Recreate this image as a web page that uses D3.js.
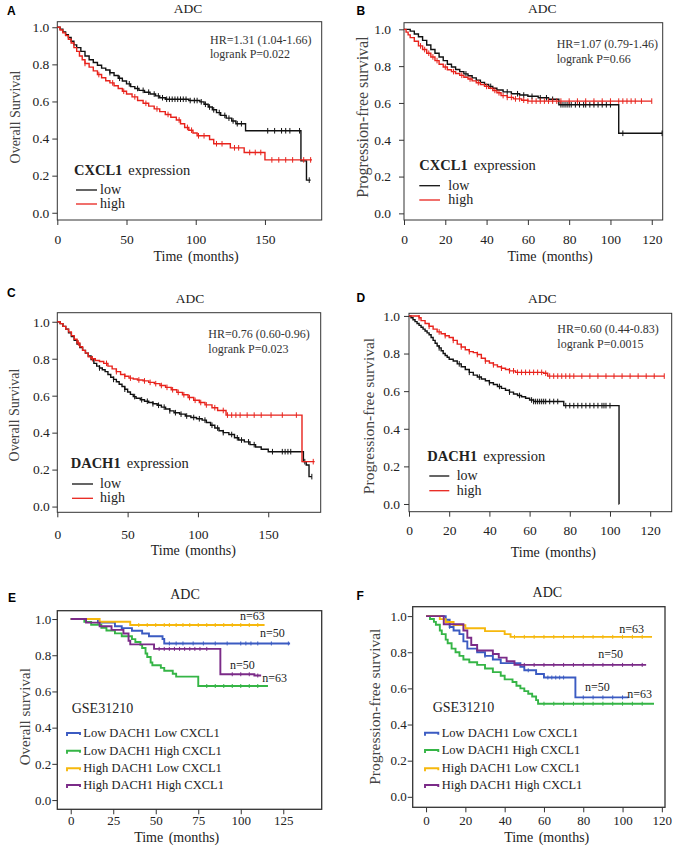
<!DOCTYPE html>
<html>
<head>
<meta charset="utf-8">
<style>
  body { margin: 0; background: #fff; }
  svg text { font-family: "Liberation Serif", "Times New Roman", serif; }
</style>
</head>
<body>
<div id="fig"></div>
<script src="https://cdn.jsdelivr.net/npm/d3@7"></script>
<script>
// ---------- data ----------
var yTicks = [0, 0.2, 0.4, 0.6, 0.8, 1.0];
var xTicksOS = [0, 50, 100, 150];
var xTicksPFS = [0, 20, 40, 60, 80, 100, 120];
var xTicksE = [0, 25, 50, 75, 100, 125];

// A: CXCL1, overall survival  [months, survival]
var A_low = [[0,1],[2,0.99],[4,0.975],[6,0.96],[8,0.945],[10,0.925],[12,0.905],[14,0.89],[17,0.87],[20,0.845],[23,0.825],[26,0.81],[29,0.795],[32,0.78],[35,0.77],[38,0.755],[41,0.74],[44,0.725],[47,0.71],[50,0.695],[53,0.68],[56,0.67],[59,0.66],[63,0.65],[67,0.64],[71,0.63],[74,0.62],[78,0.612],[95,0.605],[103,0.598],[106,0.585],[109,0.57],[112,0.555],[115,0.54],[118,0.525],[122,0.51],[126,0.495],[129,0.48],[136,0.442],[176,0.28],[180,0.176],[183,0.176]];
var A_high = [[0,1],[2,0.985],[4,0.97],[6,0.955],[8,0.935],[10,0.915],[12,0.89],[14,0.87],[16,0.845],[18,0.825],[20,0.805],[23,0.785],[26,0.765],[29,0.745],[32,0.728],[35,0.712],[38,0.7],[41,0.685],[44,0.67],[47,0.655],[50,0.64],[54,0.625],[58,0.605],[62,0.59],[66,0.575],[70,0.56],[74,0.545],[78,0.53],[82,0.515],[86,0.5],[89,0.48],[92,0.46],[95,0.445],[98,0.43],[101,0.415],[110,0.395],[113,0.372],[125,0.35],[135,0.325],[150,0.285],[184,0.285]];
var A_low_cens = [38,45,52,58,62,66,70,73,76,79,81,83,85,87,89,91,93,96,99,101,104,107,110,113,117,121,124,127,130,133,152,157,162,165,168,175,182];
var A_high_cens = [20,30,40,48,56,64,72,80,88,94,97,102,106,115,119,128,131,139,143,147,155,160,165,170,178,183];

// B: CXCL1, progression-free survival
var B_low = [[0,1],[3,0.99],[5,0.975],[7,0.96],[9,0.94],[11,0.915],[13,0.89],[15,0.87],[17,0.85],[19,0.83],[21,0.81],[23,0.795],[25,0.782],[27,0.77],[29,0.758],[31,0.748],[33,0.736],[35,0.724],[37,0.712],[39,0.7],[41,0.69],[43,0.68],[45,0.67],[48,0.66],[52,0.65],[56,0.643],[60,0.636],[65,0.628],[70,0.62],[75,0.59],[104,0.435],[125,0.435]];
var B_high = [[0,1],[1,0.985],[2,0.97],[3,0.955],[5,0.935],[7,0.91],[9,0.89],[11,0.87],[13,0.85],[15,0.83],[17,0.81],[19,0.795],[21,0.78],[23,0.77],[25,0.76],[27,0.75],[29,0.74],[31,0.73],[33,0.72],[35,0.71],[37,0.7],[39,0.69],[41,0.68],[43,0.668],[45,0.655],[47,0.64],[50,0.63],[53,0.622],[57,0.615],[60,0.61],[120,0.61]];
var B_low_cens = [30,42,50,55,58,62,66,69,72,76,77,78,79,80,81,83,85,87,88,90,92,94,96,98,100,106,125];
var B_high_cens = [8,10,12,14,16,20,24,28,32,36,40,44,46,48,50,52,54,56,58,60,62,64,66,68,70,72,74,76,80,84,88,92,96,100,104,106,108,110,112,115,120];

// C: DACH1, overall survival
var C_low = [[0,1],[2,0.99],[4,0.975],[6,0.96],[8,0.94],[10,0.92],[12,0.9],[14,0.88],[16,0.86],[18,0.845],[20,0.83],[22,0.815],[24,0.795],[26,0.775],[28,0.76],[30,0.75],[32,0.74],[34,0.73],[36,0.715],[38,0.7],[40,0.688],[42,0.675],[44,0.662],[46,0.65],[48,0.635],[50,0.62],[52,0.607],[54,0.595],[56,0.586],[59,0.578],[62,0.57],[65,0.563],[68,0.556],[71,0.548],[74,0.538],[77,0.528],[80,0.518],[83,0.508],[87,0.5],[91,0.49],[95,0.482],[99,0.475],[103,0.468],[106,0.455],[109,0.44],[112,0.425],[115,0.41],[118,0.4],[122,0.39],[126,0.372],[129,0.36],[133,0.35],[137,0.335],[141,0.322],[145,0.31],[150,0.297],[175,0.243],[177,0.225],[179,0.162],[181,0.162]];
var C_high = [[0,1],[2,0.99],[4,0.975],[6,0.96],[8,0.945],[10,0.925],[12,0.905],[14,0.885],[16,0.865],[18,0.845],[20,0.83],[22,0.81],[24,0.8],[27,0.79],[30,0.785],[33,0.775],[36,0.76],[39,0.745],[42,0.73],[45,0.715],[48,0.705],[51,0.695],[54,0.69],[57,0.685],[61,0.68],[65,0.672],[69,0.665],[73,0.655],[77,0.645],[81,0.632],[85,0.618],[89,0.605],[93,0.59],[97,0.575],[101,0.563],[105,0.55],[110,0.535],[114,0.52],[120,0.495],[174,0.243],[183,0.243]];
var C_low_cens = [30,40,48,55,60,64,68,72,76,80,84,88,92,97,101,105,110,114,118,124,128,131,136,140,153,160,162,164,166,176,181];
var C_high_cens = [15,25,35,42,48,52,58,62,66,70,74,78,82,86,90,94,98,102,106,112,118,121,124,127,130,135,140,145,152,160,170,182];

// D: DACH1, progression-free survival
var D_low = [[0,1],[1,0.99],[2,0.98],[3,0.97],[4,0.96],[5,0.95],[6,0.94],[7,0.93],[8,0.92],[9,0.91],[10,0.9],[11,0.885],[12,0.87],[13,0.855],[14,0.84],[15,0.83],[16,0.815],[17,0.8],[18,0.79],[19,0.78],[20,0.77],[22,0.76],[24,0.745],[26,0.73],[28,0.715],[30,0.7],[32,0.685],[34,0.675],[36,0.665],[38,0.655],[40,0.645],[42,0.635],[44,0.625],[46,0.615],[48,0.605],[50,0.595],[52,0.585],[54,0.577],[56,0.57],[58,0.562],[60,0.553],[62,0.545],[77,0.523],[104.5,0],[104.6,0]];
var D_high = [[0,1],[5,0.99],[6,0.975],[8,0.96],[10,0.945],[12,0.93],[14,0.915],[16,0.905],[18,0.895],[20,0.885],[22,0.87],[24,0.85],[26,0.835],[28,0.82],[30,0.81],[32,0.805],[34,0.795],[36,0.775],[38,0.76],[40,0.75],[42,0.74],[44,0.73],[46,0.722],[48,0.715],[50,0.708],[53,0.7],[67,0.695],[69,0.68],[127,0.68]];
var D_low_cens = [15,25,30,35,40,45,50,55,61,62,63,64,65,66,67,68,70,72,74,78,80,82,84,86,88,90,92,94,96,97,98,100];
var D_high_cens = [5,10,15,18,22,26,30,34,38,42,46,50,52,54,56,58,60,62,64,66,68,70,72,74,76,78,80,82,86,90,94,98,102,106,110,114,118,122,127];

// E: GSE31210, overall survival (four groups)
var E_lowD_lowC = [[0,1],[16,0.98],[26,0.96],[30,0.95],[36,0.935],[42,0.92],[46,0.905],[54,0.89],[55,0.865],[129,0.865]];
var E_lowD_highC = [[0,1],[8,0.984],[12,0.968],[18,0.952],[21,0.937],[26,0.921],[30,0.905],[36,0.889],[38,0.873],[41,0.857],[42,0.84],[44,0.81],[45,0.79],[47,0.76],[48,0.745],[53,0.73],[55,0.714],[60,0.698],[62,0.682],[75,0.63],[116,0.63]];
var E_highD_lowC = [[0,1],[17,0.985],[35,0.967],[114,0.967]];
var E_highD_highC = [[0,1],[9,0.98],[17,0.96],[24,0.94],[31,0.92],[34,0.88],[35,0.86],[49,0.835],[88,0.695],[108,0.688],[112,0.688]];
var E_lowD_lowC_cens = [58,62,66,72,78,85,92,100,103,106,110,118,128];
var E_lowD_highC_cens = [80,85,90,95,100,105,110];
var E_highD_lowC_cens = [40,45,50,55,58,62,66,70,75,80,85,90,95,100,105,110];
var E_highD_highC_cens = [52,55,58,61,64,67,70,73,76,80,95,100,105,110];

// F: GSE31210, progression-free survival (four groups)
var F_lowD_lowC = [[0,1],[10,0.98],[12,0.94],[14,0.92],[17,0.9],[19,0.86],[21,0.82],[26,0.8],[30,0.78],[34,0.76],[38,0.74],[48,0.72],[50,0.7],[56,0.68],[60,0.66],[76,0.55],[103,0.55]];
var F_lowD_highC = [[0,1],[2,0.984],[4,0.968],[5,0.952],[7,0.92],[8,0.9],[10,0.87],[11,0.85],[13,0.82],[15,0.8],[17,0.78],[19,0.76],[22,0.745],[26,0.73],[30,0.71],[34,0.69],[38,0.67],[40,0.65],[44,0.635],[46,0.615],[48,0.6],[50,0.585],[52,0.57],[54,0.555],[56,0.535],[57,0.515],[116,0.515]];
var F_highD_lowC = [[0,1],[7,0.983],[10,0.967],[14,0.95],[20,0.933],[30,0.917],[40,0.9],[43,0.885],[115,0.885]];
var F_highD_highC = [[0,1],[9,0.955],[19,0.92],[21,0.88],[23,0.84],[26,0.81],[34,0.79],[37,0.77],[41,0.75],[45,0.73],[112,0.73]];
var F_lowD_lowC_cens = [12,30,52,62,64,66,68,70,80,85,90,95,100];
var F_lowD_highC_cens = [60,65,70,75,80,85,90,95,100,105,110];
var F_highD_lowC_cens = [45,50,55,60,65,70,75,80,85,90,95,100,105,110];
var F_highD_highC_cens = [50,55,60,65,70,75,80,85,90,95,100,105,110];

var groupNames = ["Low DACH1 Low CXCL1", "Low DACH1 High CXCL1", "High DACH1 Low CXCL1", "High DACH1 High CXCL1"];
var groupN = ["n=50", "n=63", "n=63", "n=50"];

// ---------- colours ----------
var black = "#111", red = "#e8231c";
var blue = "#3b5bc2", green = "#35b546", yellow = "#f6b80d", purple = "#7b2b88";

// ---------- layout of each panel (pixels) ----------
var panels = [
  {letter: "A", letterPos: [7, 15], box: [57.3, 321.7, 21.7, 220], xd: [0, 191], yd: [-0.039, 1.030],
   xticks: xTicksOS, title: [188, 13.3], ylab: "Overall Survival", ylabPos: [15, 117], ylabSize: 14,
   ytGap: 8, xtY: 244, xlab: [196, 261], hr: ["HR=1.31 (1.04-1.66)", "logrank P=0.022"], hrPos: [210, 44.3, 58.3],
   gene: "CXCL1", leg: {x: 74, y: 175, lx: [76, 97], rows: [190, 204], tx: 100},
   curves: [{d: A_low, c: black, cens: A_low_cens}, {d: A_high, c: red, cens: A_high_cens}]},
  {letter: "B", letterPos: [356.5, 15], box: [404, 662.7, 22.7, 220], xd: [0, 125.3], yd: [-0.036, 1.036],
   xticks: xTicksPFS, title: [542.3, 13.3], ylab: "Progression-free survival", ylabPos: [362.5, 117], ylabSize: 16,
   ytGap: 13, xtY: 244, xlab: [550, 261], hr: ["HR=1.07 (0.79-1.46)", "logrank P=0.66"], hrPos: [556.7, 48.3, 63.3],
   gene: "CXCL1", leg: {x: 419.3, y: 170, lx: [419.3, 440], rows: [185.7, 200], tx: 448.3},
   curves: [{d: B_low, c: black, cens: B_low_cens}, {d: B_high, c: red, cens: B_high_cens}]},
  {letter: "C", letterPos: [7, 296.7], box: [57.3, 320.7, 312.7, 512.3], xd: [0, 187.3], yd: [-0.031, 1.049],
   xticks: xTicksOS, title: [190, 302.7], ylab: "Overall Survival", ylabPos: [14, 415], ylabSize: 14,
   ytGap: 7.5, xtY: 539, xlab: [193.3, 554.5], hr: ["HR=0.76 (0.60-0.96)", "logrank P=0.023"], hrPos: [208.3, 338.3, 352.7],
   gene: "DACH1", leg: {x: 70.7, y: 468.3, lx: [72, 93], rows: [484, 498.3], tx: 100},
   curves: [{d: C_low, c: black, cens: C_low_cens}, {d: C_high, c: red, cens: C_high_cens}]},
  {letter: "D", letterPos: [356.5, 301.7], box: [409, 671.7, 313.3, 511.7], xd: [0, 130.7], yd: [-0.041, 1.014],
   xticks: xTicksPFS, title: [542.3, 302.7], ylab: "Progression-free survival", ylabPos: [368.3, 416], ylabSize: 15.5,
   ytGap: 9, xtY: 535.5, xlab: [553.3, 556.5], hr: ["HR=0.60 (0.44-0.83)", "logrank P=0.0015"], hrPos: [557.3, 333.3, 348.3],
   gene: "DACH1", leg: {x: 427.3, y: 461, lx: [429.3, 449.3], rows: [476, 490.7], tx: 456.7},
   curves: [{d: D_low, c: black, cens: D_low_cens}, {d: D_high, c: red, cens: D_high_cens}]},
  {letter: "E", letterPos: [8, 601.7], box: [57.3, 321.7, 610.7, 809.3], xd: [-7.9, 147.6], yd: [-0.051, 1.046],
   xticks: xTicksE, title: [185, 599.3], ylab: "Overall survival", ylabPos: [25, 716.7], ylabSize: 15,
   ytGap: 6, xtY: 825.5, xlab: [176.7, 841.5], group: true,
   gse: [71.7, 713.3], leg: {sx: [67, 80], tx: 83.3, rows: [733, 750.7, 768.3, 785]},
   nlab: [[260, 636.7], [262.3, 682.3], [240, 620], [230, 669]],
   curves: [{d: E_lowD_lowC, c: blue, cens: E_lowD_lowC_cens}, {d: E_lowD_highC, c: green, cens: E_lowD_highC_cens},
            {d: E_highD_lowC, c: yellow, cens: E_highD_lowC_cens}, {d: E_highD_highC, c: purple, cens: E_highD_highC_cens}]},
  {letter: "F", letterPos: [356.5, 600], box: [412.7, 665, 606.7, 807.3], xd: [-6.8, 121.6], yd: [-0.058, 1.052],
   xticks: xTicksPFS, title: [547.3, 597.3], ylab: "Progression-free survival", ylabPos: [375, 706.7], ylabSize: 15.5,
   ytGap: 6, xtY: 825.5, xlab: [546.7, 841.5], group: true,
   gse: [432.7, 711.7], leg: {sx: [425, 438.3], tx: 441.7, rows: [732.7, 750, 768.3, 785]},
   nlab: [[585, 690.7], [627.3, 698.3], [619.3, 633.3], [598.3, 658.3]],
   curves: [{d: F_lowD_lowC, c: blue, cens: F_lowD_lowC_cens}, {d: F_lowD_highC, c: green, cens: F_lowD_highC_cens},
            {d: F_highD_lowC, c: yellow, cens: F_highD_lowC_cens}, {d: F_highD_highC, c: purple, cens: F_highD_highC_cens}]}
];

var svg = d3.select("#fig").append("svg").attr("width", 680).attr("height", 849);

// survival value of a step curve at time t
function stepAt(d, t) {
  var i = d3.bisector(function(p) { return p[0]; }).right(d, t) - 1;
  return d[Math.max(0, i)][1];
}

panels.forEach(function(p) {
  var g = svg.append("g");
  var x = d3.scaleLinear().domain(p.xd).range([p.box[0], p.box[1]]);
  var y = d3.scaleLinear().domain(p.yd).range([p.box[3], p.box[2]]);
  var tickFont = p.group ? 13 : 13.5;
  var lw = p.group ? 1.9 : 1.4;

  // y axis (ticks only; frame is drawn separately)
  var ya = g.append("g").attr("transform", "translate(" + p.box[0] + ",0)")
    .call(d3.axisLeft(y).tickValues(yTicks).tickFormat(d3.format(".1f")).tickSize(5).tickPadding(p.ytGap - 5));
  ya.select(".domain").remove();
  ya.selectAll("line").attr("stroke", "#333");
  ya.selectAll("text").attr("font-family", "Liberation Serif").attr("font-size", tickFont).attr("fill", "#222");

  var xa = g.append("g").attr("transform", "translate(0," + p.box[3] + ")")
    .call(d3.axisBottom(x).tickValues(p.xticks).tickFormat(d3.format("d")).tickSize(5).tickSizeOuter(0));
  xa.select(".domain").remove();
  xa.selectAll("line").attr("stroke", "#333");
  xa.selectAll("text").attr("font-family", "Liberation Serif").attr("font-size", tickFont).attr("fill", "#222")
    .attr("y", p.xtY - p.box[3]).attr("dy", null);

  // frame
  g.append("rect").attr("x", p.box[0]).attr("y", p.box[2])
    .attr("width", p.box[1] - p.box[0]).attr("height", p.box[3] - p.box[2])
    .attr("fill", "none").attr("stroke", "#333").attr("stroke-width", p.group ? 1.3 : 1);

  // curves with censor ticks
  var line = d3.line().x(function(d) { return x(d[0]); }).y(function(d) { return y(d[1]); }).curve(d3.curveStepAfter);
  p.curves.forEach(function(c) {
    g.append("path").attr("d", line(c.d)).attr("fill", "none").attr("stroke", c.c).attr("stroke-width", lw);
    var h = p.group ? 2 : 2.8;
    g.selectAll(null).data(c.cens).enter().append("line")
      .attr("x1", function(t) { return x(t); }).attr("x2", function(t) { return x(t); })
      .attr("y1", function(t) { return y(stepAt(c.d, t)) - h; })
      .attr("y2", function(t) { return y(stepAt(c.d, t)) + h; })
      .attr("stroke", c.c).attr("stroke-width", 1);
  });

  // titles and labels
  g.append("text").attr("x", p.title[0]).attr("y", p.title[1]).attr("text-anchor", "middle")
    .attr("font-size", p.group ? 14 : 13.5).attr("fill", "#222").text("ADC");
  g.append("text").attr("x", p.letterPos[0]).attr("y", p.letterPos[1])
    .style("font-family", "'Liberation Sans', Arial, sans-serif").attr("font-weight", "bold")
    .attr("font-size", 12).attr("fill", "#000").text(p.letter);
  g.append("text").attr("transform", "translate(" + p.ylabPos[0] + "," + p.ylabPos[1] + ") rotate(-90)")
    .attr("text-anchor", "middle").attr("dy", "0.35em").attr("font-size", p.ylabSize).attr("fill", "#444").text(p.ylab);
  g.append("text").attr("x", p.xlab[0]).attr("y", p.xlab[1]).attr("text-anchor", "middle")
    .attr("font-size", 14).attr("fill", "#222").attr("word-spacing", 2).text("Time (months)");

  if (!p.group) {
    g.append("text").attr("x", p.hrPos[0]).attr("y", p.hrPos[1]).attr("font-size", 12).attr("fill", "#333").text(p.hr[0]);
    g.append("text").attr("x", p.hrPos[0]).attr("y", p.hrPos[2]).attr("font-size", 12).attr("fill", "#333").text(p.hr[1]);
    var lt = g.append("text").attr("x", p.leg.x).attr("y", p.leg.y).attr("font-size", 14.5).attr("fill", "#222");
    lt.append("tspan").attr("font-weight", "bold").text(p.gene);
    lt.append("tspan").attr("dx", 6).text("expression");
    ["low", "high"].forEach(function(lab, i) {
      g.append("line").attr("x1", p.leg.lx[0]).attr("x2", p.leg.lx[1])
        .attr("y1", p.leg.rows[i]).attr("y2", p.leg.rows[i])
        .attr("stroke", p.curves[i].c).attr("stroke-width", 1.3);
      g.append("text").attr("x", p.leg.tx).attr("y", p.leg.rows[i] + 4)
        .attr("font-size", 14).attr("fill", "#222").text(lab);
    });
  } else {
    g.append("text").attr("x", p.gse[0]).attr("y", p.gse[1]).attr("font-size", 14).attr("fill", "#222").text("GSE31210");
    groupNames.forEach(function(name, i) {
      var yy = p.leg.rows[i];
      g.append("path")
        .attr("d", "M" + p.leg.sx[0] + "," + (yy + 3) + "V" + yy + "H" + p.leg.sx[1] + "V" + (yy + 2))
        .attr("fill", "none").attr("stroke", p.curves[i].c).attr("stroke-width", 1.9);
      g.append("text").attr("x", p.leg.tx).attr("y", yy + 4)
        .attr("font-size", 12.5).attr("fill", "#222").text(name);
      g.append("text").attr("x", p.nlab[i][0]).attr("y", p.nlab[i][1])
        .attr("font-size", 12).attr("fill", "#222").text(groupN[i]);
    });
  }
});
</script>
</body>
</html>
